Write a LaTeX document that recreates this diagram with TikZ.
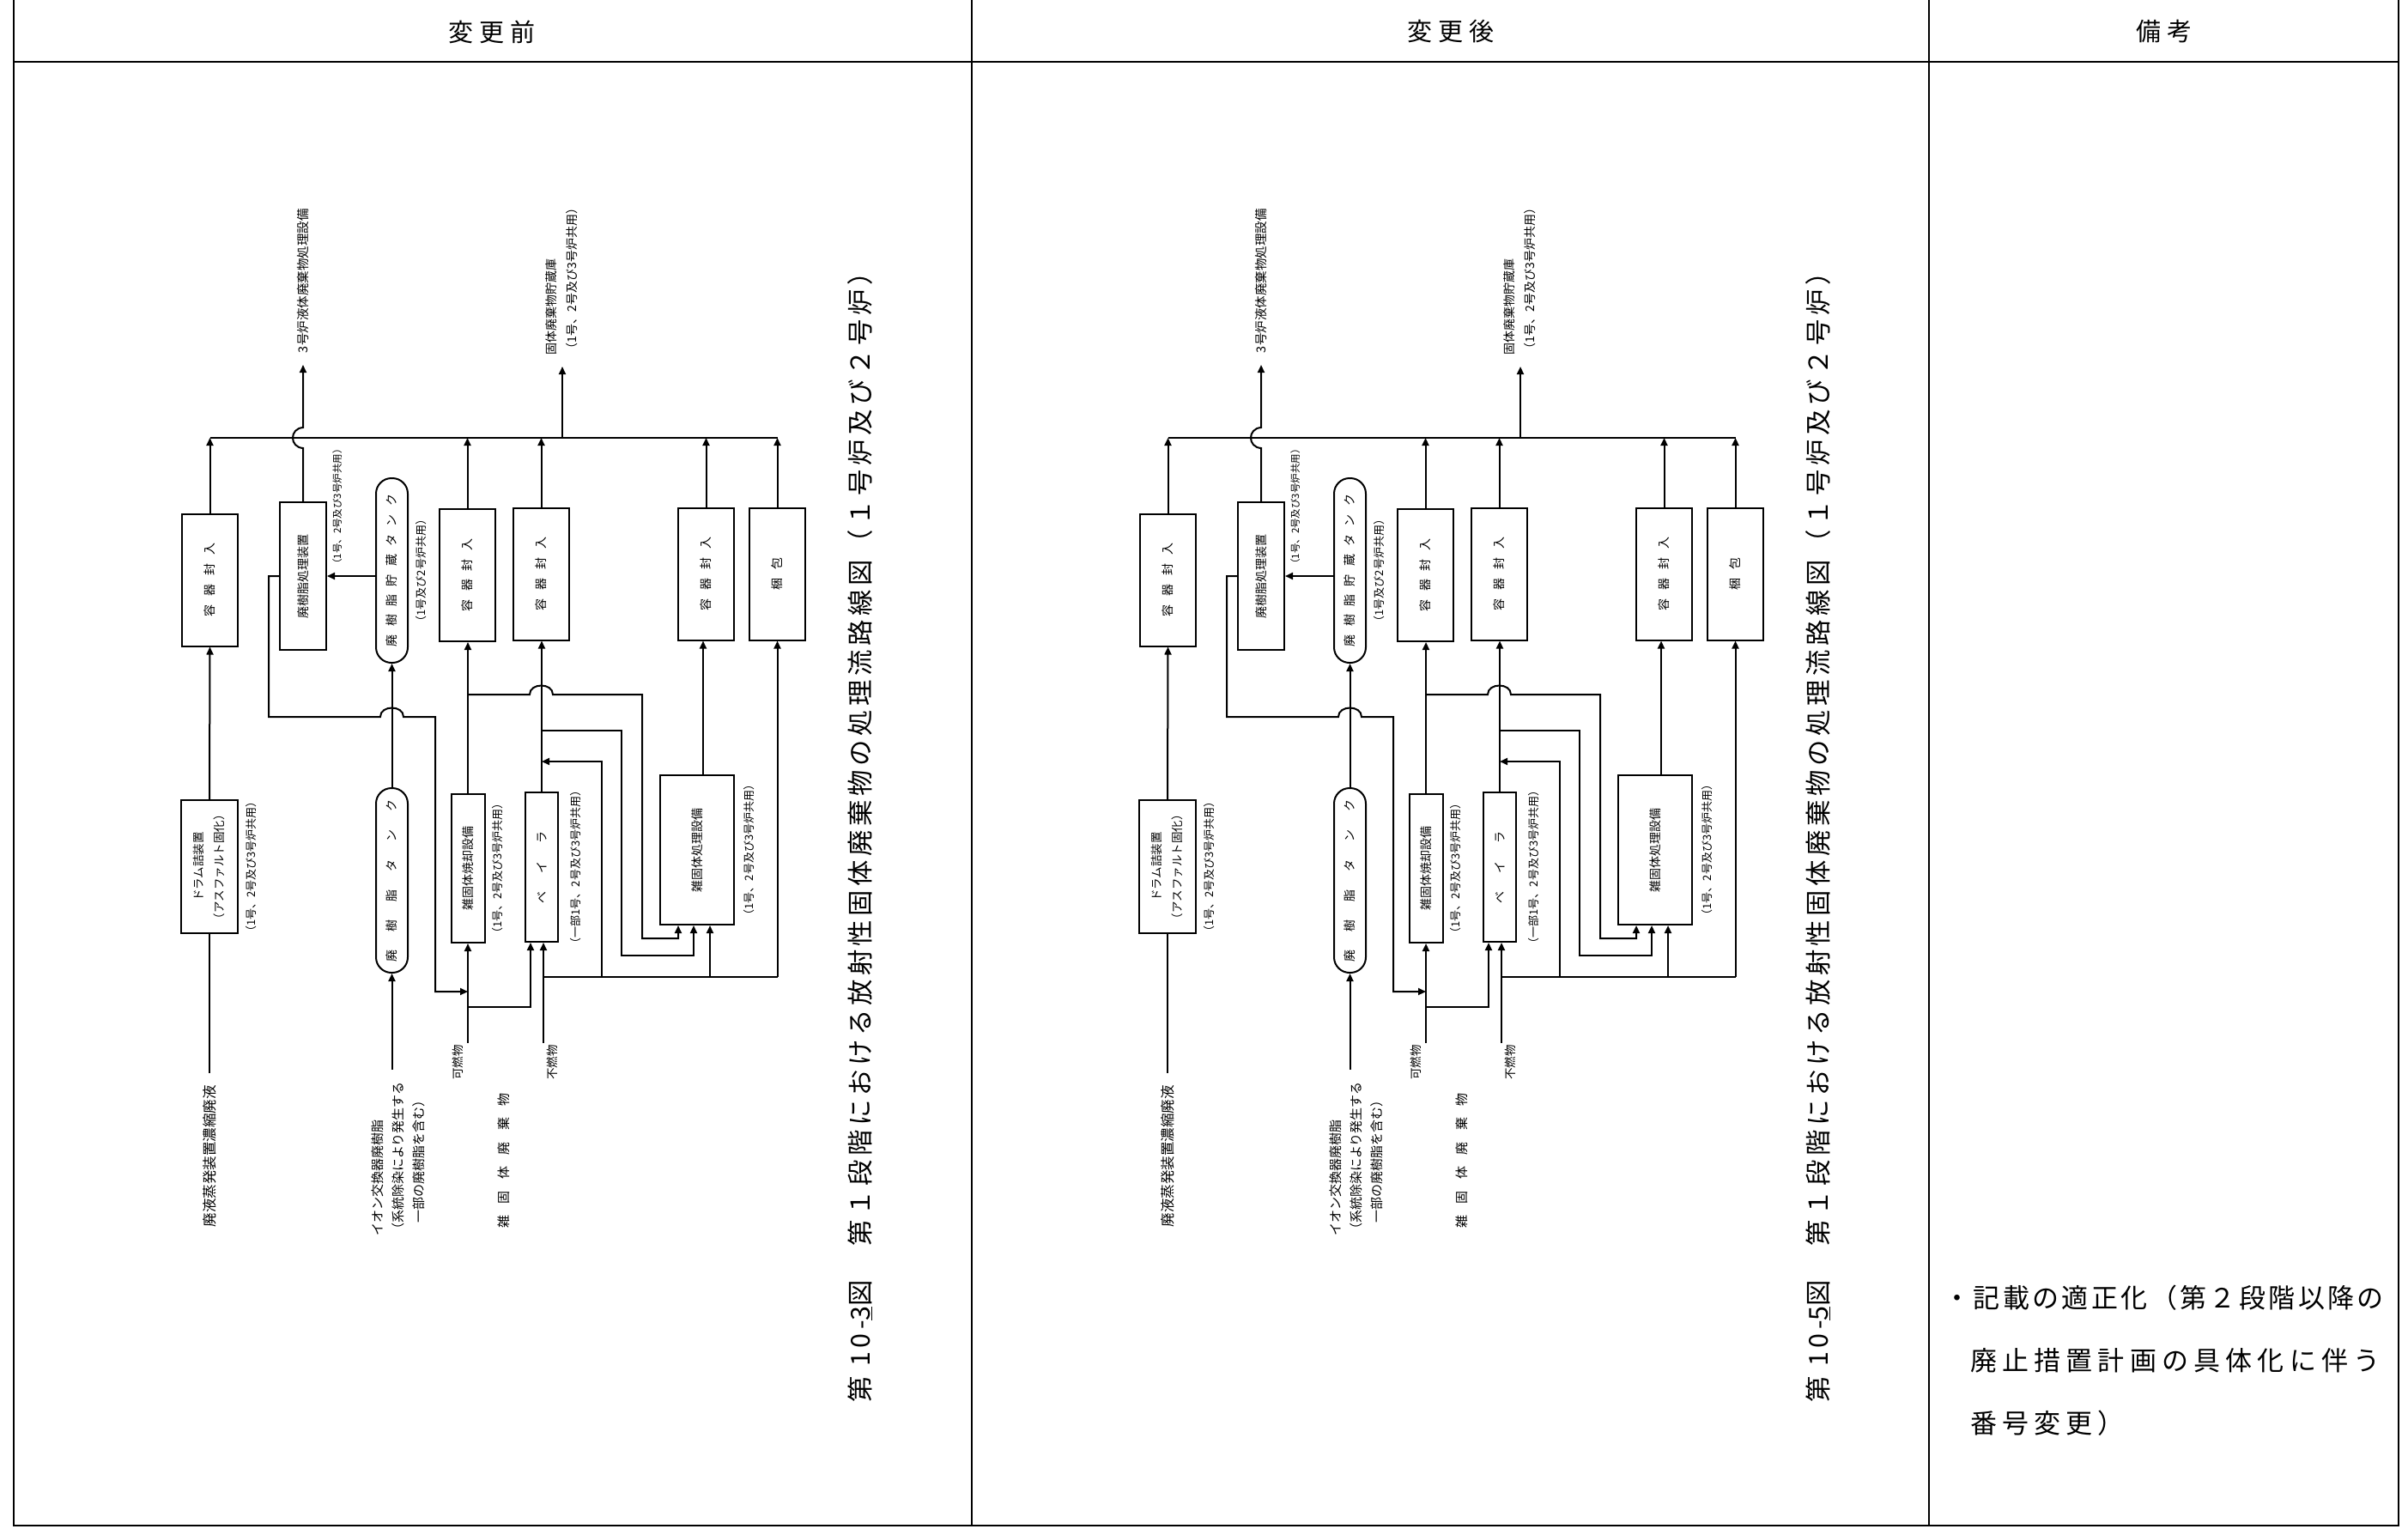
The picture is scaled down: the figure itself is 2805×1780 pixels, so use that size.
\documentclass[tikz,border=0pt]{standalone}
\usepackage{fontspec}
\setmainfont{Noto Sans CJK JP}
\newfontfamily\widefont[LetterSpace=15]{Noto Sans CJK JP}
\usepackage{graphicx}
\usetikzlibrary{arrows.meta,positioning}

\newcommand{\rot}[1]{\rotatebox{90}{#1}}
\newcommand{\spreadtext}[2]{\foreach \ch [count=\k] in {#2}{\ifnum\k>1 \hspace{#1}\fi\ch}}
\newcommand{\fs}[1]{\fontsize{#1}{24}\selectfont}

\tikzset{
  unit/.style={draw, line width=2pt, inner sep=0pt, font=\fs{14}},
  seal/.style={unit, minimum width=65pt, minimum height=154pt},
  tankbox/.style={unit, rounded corners=18pt, minimum width=37pt, minimum height=215pt},
  note/.style={inner sep=0pt, font=\fs{13}},
  io/.style={note, outer sep=14pt},
  wire/.style={line width=2pt},
  flow/.style={wire, -{Triangle[length=9pt,width=8pt]}},
  tableline/.style={line width=2pt}
}

\begin{document}
\begin{tikzpicture}[x=1pt, y=1pt]
\useasboundingbox (0,0) rectangle (2805,-1780);

% table frame
\draw[tableline] (16,0) -- (16,-1777) -- (2794,-1777) -- (2794,0);
\draw[tableline] (1132,0) -- (1132,-1777);
\draw[tableline] (2247,0) -- (2247,-1777);
\draw[line width=2.5pt] (16,-72) -- (2794,-72);

\node[font=\fs{29}] (head1) at (573,-37) {\spreadtext{.25em}{変,更,前}};
\node[font=\fs{29}] (head2) at (1690,-37) {\spreadtext{.25em}{変,更,後}};
\node[font=\fs{29}] (head3) at (2521,-37) {\spreadtext{.25em}{備,考}};

% flow sheets (before / after)
\foreach \p/\dx/\fno in {L/0/3, R/1116/5}{
\begin{scope}[shift={(\dx,0)}]
  % upper row
  \foreach \n/\x/\y in {1/244.5/675.5, 2/544.5/670, 3/630.5/668.5, 4/822.5/668.5}
    \node[seal] (\p-seal\n) at (\x,-\y) {\rot{\spreadtext{.7em}{容,器,封,入}}};
  \node[seal] (\p-pack) at (905.5,-668.5) {\rot{\spreadtext{.65em}{梱,包}}};
  \node[unit, minimum width=54pt, minimum height=172pt] (\p-resproc) at (353,-671) {\rot{廃樹脂処理装置}};
  \node[tankbox] (\p-tank2) at (456.5,-664.5) {\rot{\spreadtext{.67em}{廃,樹,脂,貯,蔵,タ,ン,ク}}};

  % lower row
  \node[unit, font=\fs{13.5}, minimum width=66pt, minimum height=155pt] (\p-drum) at (244,-1009.5)
    {\rot{\begin{tabular}{@{}c@{}}ドラム詰装置\\（アスファルト固化）\end{tabular}}};
  \node[tankbox] (\p-tank1) at (456.5,-1025.5) {\rot{\spreadtext{1.5em}{廃,樹,脂,タ,ン,ク}}};
  \node[unit, minimum width=39pt, minimum height=173pt] (\p-incin) at (545,-1011.5) {\rot{雑固体焼却設備}};
  \node[unit, minimum width=38pt, minimum height=174pt] (\p-baler) at (631,-1010) {\rot{\spreadtext{1.5em}{ベ,イ,ラ}}};
  \node[unit, minimum width=86pt, minimum height=174pt] (\p-misc) at (812,-990) {\rot{雑固体処理設備}};

  % shared-use notes
  \node[note, font=\fs{11.5}, anchor=south west] (\p-resnote) at (387,-663) {\rot{（1号、2号及び3号炉共用）}};
  \node[note, right=8pt of \p-tank2] (\p-tanknote) {\rot{（1号及び2号炉共用）}};
  \node[note, right=8pt of \p-drum] (\p-drumnote) {\rot{（1号、2号及び3号炉共用）}};
  \node[note, right=8pt of \p-incin] (\p-incinnote) {\rot{（1号、2号及び3号炉共用）}};
  \node[note, right=13pt of \p-baler] (\p-balernote) {\rot{（一部1号、2号及び3号炉共用）}};
  \node[note, right=10pt of \p-misc] (\p-miscnote) {\rot{（1号、2号及び3号炉共用）}};

  % destinations
  \node[io, font=\fs{14.5}, anchor=south] (\p-liq) at (353,-425) {\rot{3号炉液体廃棄物処理設備}};
  \node[io, font=\fs{14}, anchor=south] (\p-store) at (655,-427)
    {\rot{\begin{tabular}{@{}l@{}}固体廃棄物貯蔵庫\\（1号、2号及び3号炉共用）\end{tabular}}};

  % sources
  \node[io, font=\fs{16.5}, anchor=north] (\p-evap) at (244,-1250) {\rot{廃液蒸発装置濃縮廃液}};
  \node[io, font=\fs{15}, anchor=north] (\p-ion) at (465,-1246)
    {\rot{\begin{tabular}{@{}l@{}}イオン交換器廃樹脂\\（系統除染により発生する\\　一部の廃樹脂を含む）\end{tabular}}};
  \node[note, font=\fs{13.5}, anchor=north east] (\p-comb) at (540,-1217) {\rot{可燃物}};
  \node[note, font=\fs{13.5}, anchor=north west] (\p-noncomb) at (637,-1217) {\rot{不燃物}};
  \node[note, font=\fs{15}, anchor=north] (\p-waste) at (587,-1273) {\rot{\spreadtext{.9em}{雑,固,体,廃,棄,物}}};
  \coordinate (\p-combin) at (545,-1215);
  \coordinate (\p-noncombin) at (633,-1215);
  \coordinate (\p-busy) at (0,-510);

  % collecting line
  \draw[wire] (\p-seal1.north |- \p-busy) -- (\p-pack.north |- \p-busy);
  \foreach \b in {seal1,seal2,seal3,seal4,pack}
    \draw[flow] (\p-\b.north) -- (\p-\b.north |- \p-busy);
  \draw[flow] (655,-510) -- (\p-store.south);
  \draw[flow] (\p-resproc.north) -- (353,-522) .. controls (337,-521) and (337,-499) .. (353,-498) -- (\p-liq.south);

  % resin
  \draw[flow] (\p-ion.north -| \p-tank1.south) -- (\p-tank1.south);
  \draw[flow] (\p-tank1.north) -- (\p-tank2.south);
  \draw[flow] (\p-tank2.west |- \p-resproc.east) -- (\p-resproc.east);
  \draw[flow] (\p-resproc.west) -| (313,-835) -- (443,-835) .. controls (443,-821) and (470,-821) .. (470,-835)
    -| (507,-1155) -- (\p-incin.south |- 0,-1155);

  % concentrated liquid
  \draw[wire] (\p-evap.north) -- (\p-drum.south);
  \draw[flow] (\p-drum.north) -- (\p-seal1.south);

  % miscellaneous solids
  \draw[flow] (\p-combin) -- (\p-incin.south);
  \draw[flow] (\p-combin |- 0,-1173) -| (618,0 |- \p-baler.south);
  \draw[flow] (\p-noncombin) -- (\p-noncombin |- \p-baler.south);
  \draw[wire] (\p-noncombin |- 0,-1138) -- (\p-pack.south |- 0,-1138);
  \draw[flow] (\p-pack.south |- 0,-1138) -- (\p-pack.south);
  \draw[flow] (701,-1138) |- (\p-baler.north |- 0,-887);
  \draw[flow] (827,-1138) -- (827,0 |- \p-misc.south);
  \draw[flow] (\p-incin.north) -- (\p-incin.north |- \p-seal2.south);
  \draw[flow] (\p-incin.north |- 0,-809) -- (617,-809) .. controls (617,-795) and (644,-795) .. (644,-809)
    -- (748,-809) |- (790,-1093) -- (790,0 |- \p-misc.south);
  \draw[flow] (\p-baler.north) -- (\p-baler.north |- \p-seal3.south);
  \draw[flow] (\p-baler.north |- 0,-851) -| (724,-1113) -| (808,0 |- \p-misc.south);
  \draw[flow] (819,0 |- \p-misc.north) -- (819,0 |- \p-seal4.south);

  % caption
  \node[font=\widefont\fs{30.4}] (\p-cap) at (1002,-968)
    {\rot{第 10-\underline{\fno}図　第１段階における放射性固体廃棄物の処理流路線図（１号炉及び２号炉）}};
\end{scope}
}

% remarks
\node[font=\fs{31}, inner sep=0pt, anchor=west] (rem1) at (2264,-1512)
  {\spreadtext{.11em}{・,記,載,の,適,正,化,（,第,２,段,階,以,降,の}};
\node[font=\fs{31}, inner sep=0pt, anchor=west] (rem2) at (2295,-1585)
  {\spreadtext{.2em}{廃,止,措,置,計,画,の,具,体,化,に,伴,う}};
\node[font=\fs{31}, inner sep=0pt, anchor=west] (rem3) at (2295,-1658)
  {\spreadtext{.2em}{番,号,変,更,）}};
\end{tikzpicture}
\end{document}
